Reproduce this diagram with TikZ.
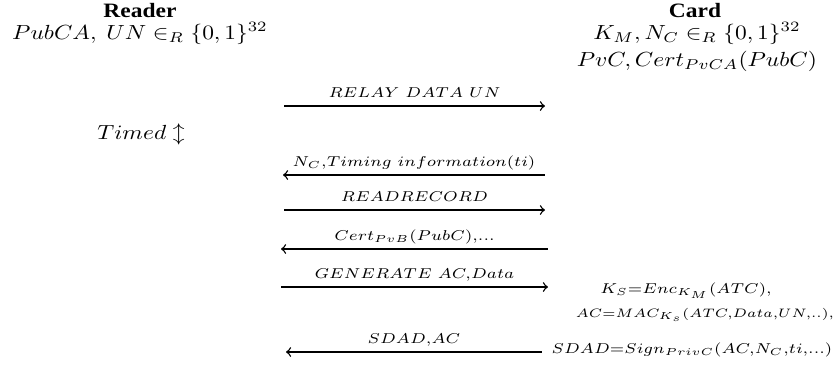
\documentclass[tikz,border=0pt]{standalone}
\usepackage{amsmath,amssymb}
\usepackage{fontspec}
\setmainfont{Liberation Serif}
\usepackage{tikz}
\usetikzlibrary{positioning}
\usetikzlibrary{arrows}
\tikzset{party/.style={font=\bfseries, anchor=base, inner sep=0pt, yscale=0.87},
         keys/.style={anchor=base, inner sep=0pt, yscale=0.87},
         msg/.style={midway, anchor=base, yshift=3.8pt, inner sep=0pt, yscale=0.87, font=\fontsize{10.3}{12}\selectfont},
         calc/.style={keys, font=\fontsize{9.4}{11}\selectfont},}

\begin{document}
\begin{tikzpicture}[x=0.426pt, y=-0.426pt, >=to, semithick]
    \useasboundingbox (0,0) rectangle (837,370);
    \node[party] (reader) at (140,17) {Reader};
    \node[keys] (readerkeys) at (140,39) {$PubCA,\ UN \in_R \{0,1\}^{32}$};
    \node[keys] (timed) at (141,139) {$Timed \updownarrow$};
    \node[party] (card) at (695,17) {Card};
    \node[keys] (cardkeys) at (697,39) {$K_M, N_C \in_R \{0,1\}^{32}$};
    \node[keys] (cardcert) at (697,66) {$PvC,Cert_{PvCA}(PubC)$};

    \coordinate (r1) at (284,106); \coordinate (c1) at (545,106);
    \coordinate (r2) at (283,175); \coordinate (c2) at (545,175);
    \coordinate (r3) at (284,210); \coordinate (c3) at (545,210);
    \coordinate (r4) at (281,249); \coordinate (c4) at (548,249);
    \coordinate (r5) at (281,287); \coordinate (c5) at (548,287);
    \coordinate (r6) at (286,352); \coordinate (c6) at (542,352);

    \draw[->] (r1) -- node[msg] {$\scriptstyle RELAY\ DATA\ UN$} (c1);
    \draw[<-] (r2) -- node[msg] {$\scriptstyle N_C,Timing\ information(ti)$} (c2);
    \draw[->] (r3) -- node[msg] {$\scriptstyle READRECORD$} (c3);
    \draw[<-] (r4) -- node[msg] {$\scriptstyle Cert_{PvB}(PubC),...$} (c4);
    \draw[->] (r5) -- node[msg] {$\scriptstyle GENERATE\ AC,Data$} (c5);
    \draw[<-] (r6) -- node[msg] {$\scriptstyle SDAD,AC$} (c6);

    \node[calc] (sesskey) at (686,293) {$\scriptstyle K_S=Enc_{K_M}(ATC),$};
    \node[calc, font=\fontsize{8.4}{10}\selectfont] (mac) at (705,317) {$\scriptstyle AC=MAC_{K_s}(ATC,Data,UN,..),$};
    \node[calc] (sdad) at (692,353) {$\scriptstyle SDAD=Sign_{PrivC}(AC,N_C,ti,\ldots)$};
\end{tikzpicture}
\end{document}
